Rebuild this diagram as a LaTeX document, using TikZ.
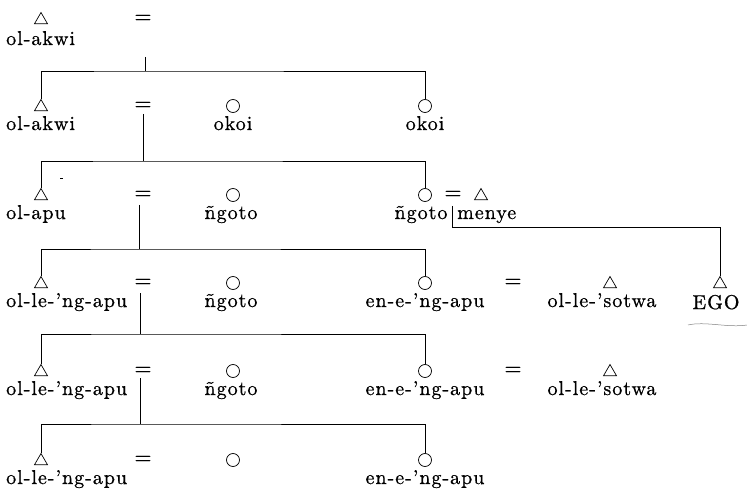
\documentclass[tikz,border=0pt]{standalone}
\usepackage{fontspec}
\setmainfont{lmroman10-regular.otf}[LetterSpace=5, FakeBold=0.8]
\usetikzlibrary{shapes.geometric}

\tikzset{
  male/.style={draw, regular polygon, regular polygon sides=3, minimum size=15pt, inner sep=0pt, line width=0.7pt},
  female/.style={draw, circle, minimum size=13pt, inner sep=0pt, line width=0.7pt},
  wed/.style={inner sep=0pt, font=\fontsize{22}{22}\selectfont},
  lname/.style={inner sep=0pt, anchor=base west},
  cname/.style={inner sep=0pt, anchor=base},
  kin/.style={line width=0.7pt}
}

\begin{document}
\begin{tikzpicture}[x=1pt, y=-1pt, font=\fontsize{20}{22}\selectfont]
\useasboundingbox (0,0) rectangle (747,489);

% first generation
\node[male] (a1) at (41,20) {};
\node[lname] (n1) at (6,45) {ol-akwi};
\node[wed] (e1) at (143,19) {=};
\coordinate (d1) at (145,57);
\coordinate (k1) at (145,71);

% second generation
\node[male] (a2) at (41,107) {};
\node[lname] (n2) at (6,130) {ol-akwi};
\node[wed] (e2) at (143,106) {=};
\node[female] (f2a) at (233,106) {};
\node[cname] (n2a) at (233,130) {okoi};
\node[female] (f2b) at (425,106) {};
\node[cname] (n2b) at (425,130) {okoi};
\coordinate (d2) at (143,114);
\coordinate (k2) at (143,161);

\draw[kin] (d1) -- (k1);
\draw[kin] (a2.north) |- (k1) -| (f2b.north);

% third generation
\node[male] (a3) at (41,196) {};
\node[lname] (n3) at (6,219) {ol-apu};
\node[wed] (e3) at (143,195) {=};
\node[female] (f3a) at (233,195) {};
\node[cname] (n3a) at (231,219) {ñgoto};
\node[female] (f3b) at (425,195) {};
\node[cname] (n3b) at (421,219) {ñgoto};
\node[wed] (e3b) at (453,195) {=};
\node[male] (m3) at (481,196) {};
\node[lname] (n3c) at (457,219) {menye};
\coordinate (d3) at (139,205);
\coordinate (k3) at (139,249);
\coordinate (d3b) at (452,206);
\coordinate (k3b) at (452,227);
\draw (60,178) -- (63,178);

\draw[kin] (d2) -- (k2);
\draw[kin] (a3.north) |- (k2) -| (f3b.north);

% fourth generation
\node[male] (a4) at (41,284) {};
\node[lname] (n4) at (6,307) {ol-le-'ng-apu};
\node[wed] (e4) at (143,283) {=};
\node[female] (f4a) at (233,283) {};
\node[cname] (n4a) at (231,307) {ñgoto};
\node[female] (f4b) at (425,283) {};
\node[cname] (n4b) at (425,307) {en-e-'ng-apu};
\node[wed] (e4b) at (513,283) {=};
\node[male] (m4) at (610,284) {};
\node[cname] (n4c) at (602,307) {ol-le-'sotwa};
\node[male] (ego) at (720,284) {};
\node[cname] (n4d) at (716,309) {EGO};
\coordinate (d4) at (140,293);
\coordinate (k4) at (140,334);

\draw[kin] (d3) -- (k3);
\draw[kin] (a4.north) |- (k3) -| (f4b.north);
\draw[kin] (d3b) -- (k3b) -| (ego.north);
\draw[gray, line width=0.5pt] (688,325) .. controls (705,321) and (728,328) .. (747,325);

% fifth generation
\node[male] (a5) at (41,372) {};
\node[lname] (n5) at (6,395) {ol-le-'ng-apu};
\node[wed] (e5) at (143,371) {=};
\node[female] (f5a) at (233,371) {};
\node[cname] (n5a) at (231,395) {ñgoto};
\node[female] (f5b) at (425,371) {};
\node[cname] (n5b) at (425,395) {en-e-'ng-apu};
\node[wed] (e5b) at (513,371) {=};
\node[male] (m5) at (610,372) {};
\node[cname] (n5c) at (602,395) {ol-le-'sotwa};
\coordinate (d5) at (140,378);
\coordinate (k5) at (140,424);

\draw[kin] (d4) -- (k4);
\draw[kin] (a5.north) |- (k4) -| (f5b.north);

% sixth generation
\node[male] (a6) at (41,461) {};
\node[lname] (n6) at (6,484) {ol-le-'ng-apu};
\node[wed] (e6) at (143,460) {=};
\node[female] (f6a) at (233,460) {};
\node[female] (f6b) at (425,460) {};
\node[cname] (n6b) at (425,484) {en-e-'ng-apu};

\draw[kin] (d5) -- (k5);
\draw[kin] (a6.north) |- (k5) -| (f6b.north);

\end{tikzpicture}
\end{document}
